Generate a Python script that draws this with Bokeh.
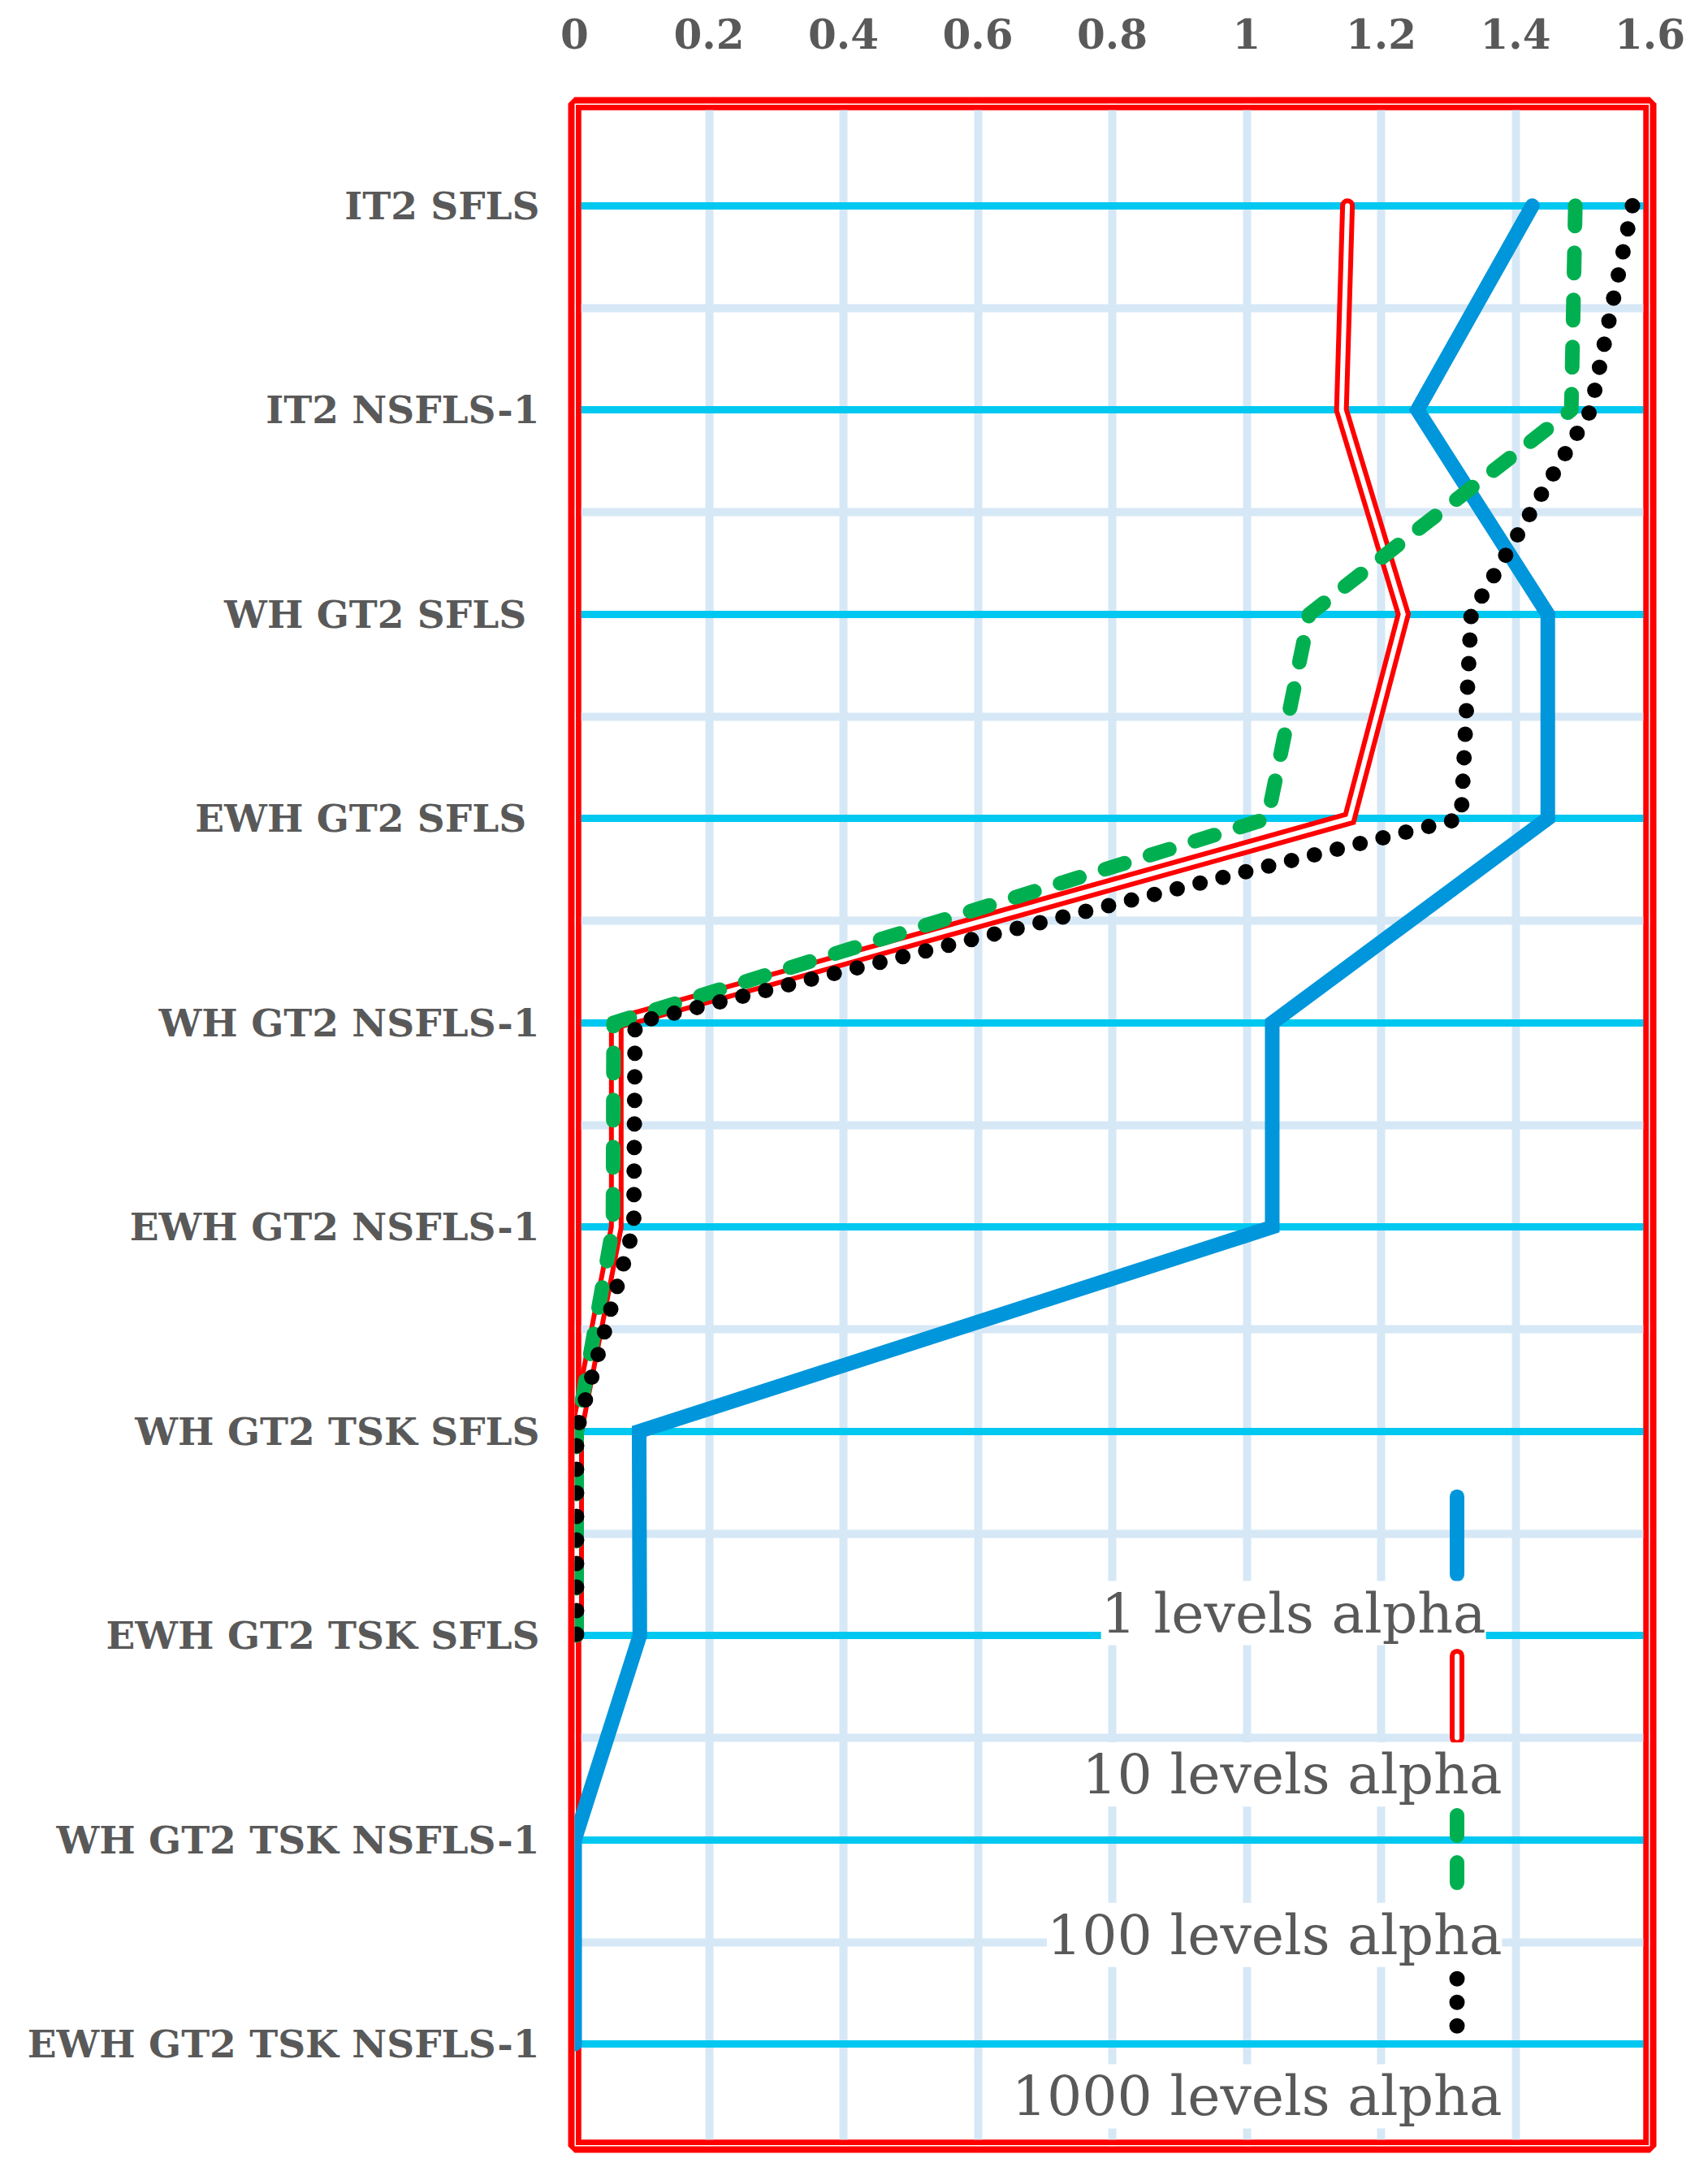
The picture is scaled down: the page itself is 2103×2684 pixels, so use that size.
import numpy as np
from bokeh.plotting import figure
from bokeh.models import FixedTicker, Range1d, BoxAnnotation, Label
from bokeh.embed import file_html
from bokeh.resources import INLINE

# ---------------- data ----------------
CATEGORIES = [
    "IT2 SFLS",
    "IT2 NSFLS-1",
    "WH GT2 SFLS ",
    "EWH GT2 SFLS ",
    "WH GT2 NSFLS-1",
    "EWH GT2 NSFLS-1",
    "WH GT2 TSK SFLS",
    "EWH GT2 TSK SFLS",
    "WH GT2 TSK NSFLS-1",
    "EWH GT2 TSK NSFLS-1",
]
SERIES_NAMES = ["1 levels alpha", "10 levels alpha", "100 levels alpha", "1000 levels alpha"]
NAN = float("nan")
ALPHA_1 = [1.425, 1.254, 1.448, 1.448, 1.038, 1.038, 0.096, 0.097, 0.0, 0.0]
ALPHA_10 = [1.150, 1.141, 1.233, 1.153, 0.062, 0.062, 0.003, 0.003, NAN, NAN]
ALPHA_100 = [1.489, 1.483, 1.093, 1.031, 0.058, 0.057, 0.003, 0.003, NAN, NAN]
ALPHA_1000 = [1.574, 1.512, 1.334, 1.319, 0.090, 0.088, 0.003, 0.003, NAN, NAN]
XTICKS = [0, 0.2, 0.4, 0.6, 0.8, 1, 1.2, 1.4, 1.6]
XTICK_LABELS = ["0", "0.2", "0.4", "0.6", "0.8", "1", "1.2", "1.4", "1.6"]

# ---------------- layout / style ----------------
W, H = 2103, 2684
ML, MR, MT, MB = 707, 72, 127, 42
X0, X1 = 0.0, 1.6
N = len(CATEGORIES)
Y_TOP, Y_BOT = -0.5, N - 0.5

GREY = "#595959"
BLUE = "#0096DB"
RED = "#FF0000"
GREEN = "#00B050"
BLACK = "#000000"
CYAN = "#00C8F0"
LIGHT = "#D6E8F6"

p = figure(
    width=W, height=H,
    x_range=Range1d(X0, X1), y_range=Range1d(Y_BOT, Y_TOP),
    x_axis_location="above",
    toolbar_location=None, output_backend="svg",
    min_border_left=ML, min_border_right=MR,
    min_border_top=MT, min_border_bottom=MB,
    background_fill_color="white", border_fill_color="white",
)
# outer part of the double red frame
p.outline_line_color = RED
p.outline_line_alpha = 1.0
p.outline_line_width = 16

# axes
xa = p.xaxis[0]
xa.ticker = FixedTicker(ticks=XTICKS)
xa.major_label_overrides = dict(zip(XTICKS, XTICK_LABELS))
xa.major_label_text_font = "DejaVu Serif"
xa.major_label_text_font_style = "bold"
xa.major_label_text_font_size = "50px"
xa.major_label_text_color = GREY
xa.major_label_standoff = 68
ya = p.yaxis[0]
ya.ticker = FixedTicker(ticks=list(range(N)))
ya.major_label_overrides = {i: c for i, c in enumerate(CATEGORIES)}
ya.major_label_text_font = "DejaVu Serif"
ya.major_label_text_font_style = "bold"
ya.major_label_text_font_size = "47px"
ya.major_label_text_color = GREY
ya.major_label_standoff = 43
for ax in (xa, ya):
    ax.axis_line_color = None
    ax.major_tick_line_color = None
    ax.minor_tick_line_color = None
    ax.major_tick_out = 0
    ax.major_tick_in = 0

# grids
p.xgrid.ticker = FixedTicker(ticks=XTICKS[1:-1])
p.xgrid.grid_line_color = LIGHT
p.xgrid.grid_line_width = 10
p.ygrid.ticker = FixedTicker(ticks=list(range(N)),
                             minor_ticks=[i - 0.5 for i in range(N + 1)])
p.ygrid.grid_line_color = CYAN
p.ygrid.grid_line_width = 9
p.ygrid.minor_grid_line_color = LIGHT
p.ygrid.minor_grid_line_width = 10

# inner part of the double red frame (over the grid, under the series)
inner_red = BoxAnnotation(left=X0, right=X1, top=Y_TOP, bottom=Y_BOT,
                          fill_color=None, line_color=RED, line_alpha=1.0,
                          line_width=16, level="underlay")
inner_white = BoxAnnotation(left=X0, right=X1, top=Y_TOP, bottom=Y_BOT,
                            fill_color=None, line_color="white", line_alpha=1.0,
                            line_width=3, level="underlay")
for b in (inner_red, inner_white):
    p.add_layout(b)

# series
Y = list(range(N))
STYLES = [
    [dict(line_color=BLUE, line_width=18, line_cap="round", line_join="miter")],
    [dict(line_color=RED, line_width=18, line_cap="round", line_join="miter"),
     dict(line_color="white", line_width=6, line_cap="round", line_join="miter")],
    [dict(line_color=GREEN, line_width=18, line_dash="25 33", line_cap="round", line_join="round")],
    [dict(line_color=BLACK, line_width=19, line_dash="0 29", line_cap="round", line_join="round")],
]
SERIES = [ALPHA_1, ALPHA_10, ALPHA_100, ALPHA_1000]
for vals, styles in zip(SERIES, STYLES):
    for st in styles:
        p.line(x=np.array(vals, dtype=float), y=Y, **st)

# legend (glyph above label, as in the reference)
KEY_X = 1.313
KEY_Y = [(6.32, 6.70), (7.10, 7.50), (7.88, 8.29), (8.68, 8.98)]
LABEL_X = [1.356, 1.380, 1.380, 1.380]
LABEL_Y = [6.89, 7.68, 8.465, 9.255]
for name, styles, (ya0, ya1), lx, ly in zip(SERIES_NAMES, STYLES, KEY_Y, LABEL_X, LABEL_Y):
    for st in styles:
        p.line(x=[KEY_X, KEY_X], y=[ya0, ya1], **st)
    p.add_layout(Label(x=lx, y=ly, text=name, text_align="right",
                       text_baseline="alphabetic", text_font="DejaVu Serif",
                       text_font_size="68px", text_color=GREY,
                       background_fill_color="white"))

open("out.html", "w").write(file_html(p, INLINE))
